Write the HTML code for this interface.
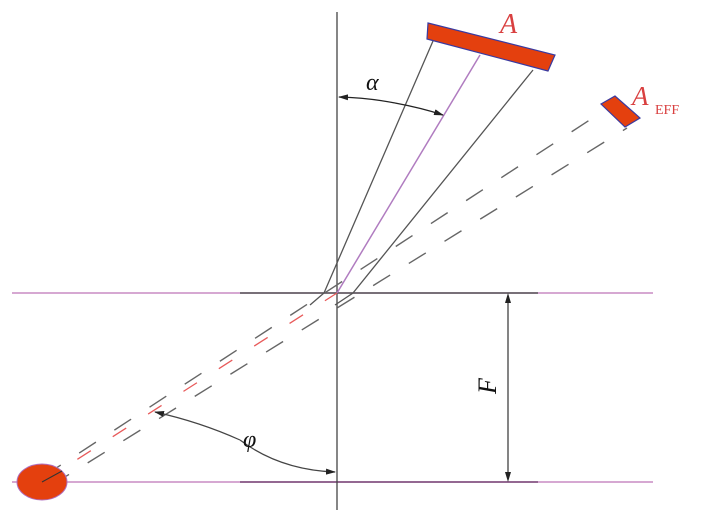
<!DOCTYPE html>
<html><head><style>body{margin:0;background:#fff}svg{display:block}</style></head><body>
<svg width="708" height="520" viewBox="0 0 708 520" xmlns="http://www.w3.org/2000/svg">
<defs>
<marker id="ar" markerWidth="10" markerHeight="8" refX="9" refY="4" orient="auto" markerUnits="userSpaceOnUse"><path d="M0,1 L10,4 L0,7 Z" fill="#222"/></marker>
</defs>
<line x1="12" y1="293" x2="653" y2="293" stroke="#c88cc4" stroke-width="1.5"/>
<line x1="240" y1="293" x2="538" y2="293" stroke="#555" stroke-width="1.5"/>
<line x1="12" y1="482" x2="653" y2="482" stroke="#c88cc4" stroke-width="1.5"/>
<line x1="240" y1="482" x2="538" y2="482" stroke="#7a4a78" stroke-width="1.5"/>
<line x1="337" y1="12" x2="337" y2="510" stroke="#444" stroke-width="1.3"/>
<line x1="44" y1="476" x2="605" y2="110" stroke="#666" stroke-width="1.4" stroke-dasharray="20 22"/>
<line x1="52" y1="485" x2="627" y2="128" stroke="#666" stroke-width="1.4" stroke-dasharray="20 22"/>
<line x1="42" y1="482" x2="337" y2="293" stroke="#e85a5a" stroke-width="1.3" stroke-dasharray="16 26"/>
<polyline points="310,305 324,293 433,41" fill="none" stroke="#555" stroke-width="1.3"/>
<polyline points="335,305 353,293 533,70" fill="none" stroke="#555" stroke-width="1.3"/>
<line x1="337" y1="293" x2="480" y2="55" stroke="#b07cc0" stroke-width="1.5"/>
<polygon points="428,23 555,55 548,71 427,39" fill="#e4400e" stroke="#3a3aa0" stroke-width="1.2"/>
<polygon points="601,104 615,96 640,118 625,127" fill="#e4400e" stroke="#3a3aa0" stroke-width="1.2"/>
<ellipse cx="42" cy="482" rx="25" ry="18" fill="#e4400e" stroke="#b070c0" stroke-width="1"/>
<line x1="42" y1="482" x2="62" y2="471" stroke="#333" stroke-width="1"/>
<path d="M395,103 Q370,98 339,97" fill="none" stroke="#222" stroke-width="1.2" marker-end="url(#ar)"/>
<path d="M395,103 Q422,108 443,115" fill="none" stroke="#222" stroke-width="1.2" marker-end="url(#ar)"/>
<path d="M240,440 Q200,422 155,412" fill="none" stroke="#444" stroke-width="1.2" marker-end="url(#ar)"/>
<path d="M240,440 Q280,470 335,472" fill="none" stroke="#444" stroke-width="1.2" marker-end="url(#ar)"/>
<line x1="508" y1="300" x2="508" y2="475" stroke="#333" stroke-width="1.2"/>
<path d="M505,303 L508,293 L511,303 Z" fill="#222"/>
<path d="M505,472 L508,482 L511,472 Z" fill="#222"/>
<text x="500" y="33" font-family="Liberation Serif,serif" font-style="italic" font-size="28" fill="#d94040">A</text>
<text x="632" y="105" font-family="Liberation Serif,serif" font-style="italic" font-size="27" fill="#d94040">A</text>
<text x="655" y="114" font-family="Liberation Serif,serif" font-size="14" fill="#d94040">EFF</text>
<text x="366" y="90" font-family="Liberation Serif,serif" font-style="italic" font-size="24" fill="#111">α</text>
<text x="243" y="447" font-family="Liberation Serif,serif" font-style="italic" font-size="24" fill="#111">φ</text>
<text transform="translate(496,386) rotate(-90)" text-anchor="middle" font-family="Liberation Serif,serif" font-style="italic" font-size="26" fill="#111">F</text>
</svg>
</body></html>
